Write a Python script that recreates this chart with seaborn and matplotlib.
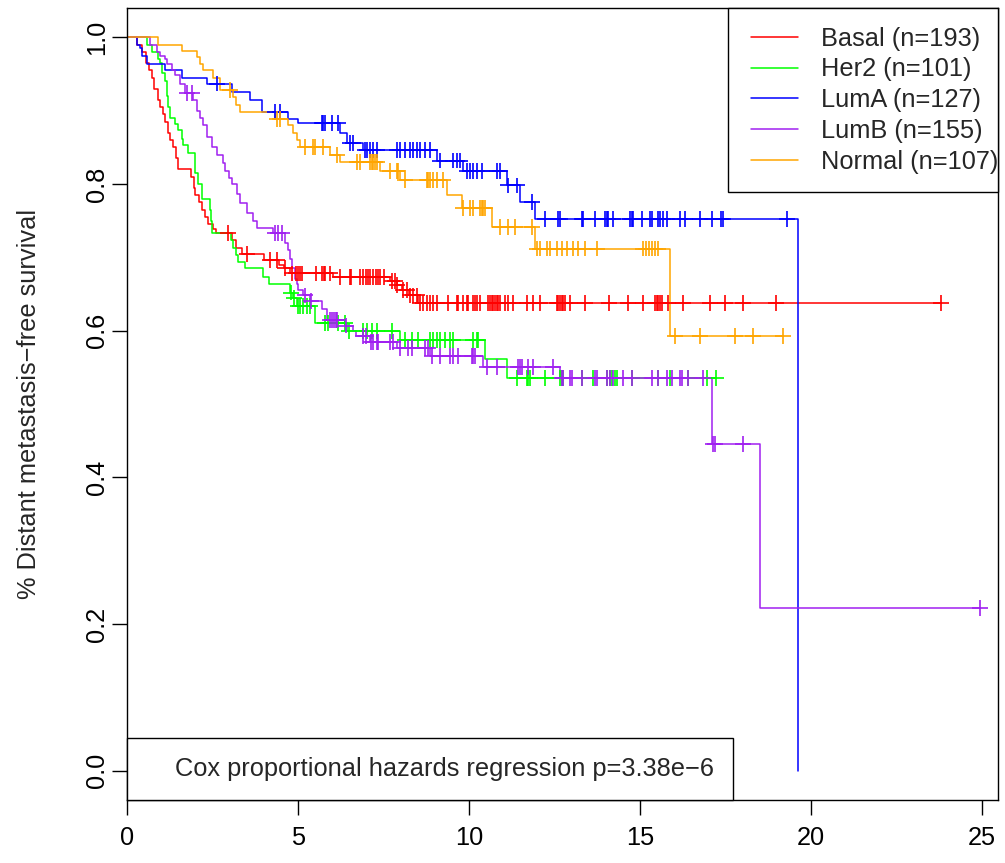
import numpy as np
import pandas as pd
import matplotlib
matplotlib.use('Agg')
import matplotlib.pyplot as plt
from matplotlib.lines import Line2D
from matplotlib.patches import Rectangle
import seaborn as sns

# ── 値─────────────────────────────────────────
groups  = ['Basal', 'Her2', 'LumA', 'LumB', 'Normal']
group_n = [193, 101, 127, 155, 107]
colors  = ['#FF0000', '#00FF00', '#0000FF', '#A020F0', '#FFA500']

basal_t = [0.30, 0.45, 0.55, 0.65, 0.73, 0.80, 0.90, 0.96, 1.05, 1.12, 1.20, 1.26, 1.35,
           1.42, 1.50, 1.88, 1.95, 2.00, 2.10, 2.20, 2.28, 2.37, 2.50, 2.60, 3.07, 3.20,
           3.35, 4.00, 4.45, 4.60, 4.77, 6.03, 7.70, 7.90, 8.05, 8.25, 8.50]
basal_s = [0.99, 0.98, 0.965, 0.955, 0.945, 0.93, 0.915, 0.905, 0.895, 0.885, 0.87, 0.86,
           0.85, 0.835, 0.82, 0.81, 0.795, 0.785, 0.775, 0.765, 0.755, 0.745, 0.738, 0.733,
           0.723, 0.713, 0.705, 0.696, 0.689, 0.685, 0.678, 0.673, 0.668, 0.662, 0.655,
           0.648, 0.638]
basal_cens = [2.95, 3.50, 4.18, 4.40, 4.62, 4.82, 4.94, 5.00, 5.06, 5.12, 5.53, 5.70, 5.76,
              5.80, 5.94, 6.23, 6.52, 6.55, 6.81, 6.90, 6.99, 7.05, 7.11, 7.20, 7.28, 7.34,
              7.40, 7.51, 7.75, 7.84, 7.90, 8.07, 8.19, 8.27, 8.36, 8.48, 8.57, 8.66, 8.77,
              8.86, 8.95, 9.06, 9.39, 9.65, 9.68, 9.82, 9.94, 9.97, 10.12, 10.18, 10.23,
              10.32, 10.56, 10.61, 10.67, 10.70, 10.76, 10.82, 10.85, 10.90, 11.05, 11.14,
              11.29, 11.70, 11.87, 12.08, 12.57, 12.60, 12.66, 12.72, 12.75, 12.80, 12.95,
              13.39, 14.09, 14.65, 15.09, 15.44, 15.50, 15.53, 15.58, 15.64, 15.82, 16.26,
              17.05, 17.49, 18.01, 18.98, 23.80]

her2_t = [0.58, 0.73, 0.91, 0.96, 1.02, 1.11, 1.17, 1.20, 1.26, 1.40, 1.49, 1.61, 1.64,
          1.78, 1.99, 2.08, 2.19, 2.43, 2.46, 2.49, 3.04, 3.10, 3.19, 3.25, 3.45, 3.98,
          4.15, 4.77, 4.85, 4.97, 5.50, 6.43, 7.98, 10.47, 11.11]
her2_s = [0.99, 0.98, 0.97, 0.965, 0.952, 0.94, 0.92, 0.905, 0.89, 0.882, 0.873, 0.862,
          0.853, 0.842, 0.815, 0.80, 0.78, 0.764, 0.75, 0.733, 0.723, 0.713, 0.703, 0.693,
          0.685, 0.673, 0.664, 0.652, 0.645, 0.634, 0.611, 0.60, 0.587, 0.562, 0.536]
her2_cens = [4.80, 4.88, 4.99, 5.06, 5.15, 5.26, 5.35, 5.79, 5.88, 6.17, 6.37, 6.48, 6.90,
             7.02, 7.16, 7.31, 7.75, 8.13, 8.33, 8.51, 8.86, 8.95, 9.06, 9.15, 9.30, 9.45,
             9.53, 10.12, 10.23, 10.26, 11.40, 11.70, 11.73, 11.78, 12.22, 12.66, 12.72,
             12.75, 13.30, 13.63, 14.04, 14.12, 14.18, 14.27, 14.33, 14.77, 15.53, 15.88,
             16.40, 16.95, 17.22]

luma_t = [0.29, 0.38, 0.44, 0.58, 1.11, 1.61, 2.34, 3.07, 3.60, 3.95, 4.71, 5.00, 6.23,
          6.43, 6.90, 9.06, 9.82, 11.11, 11.49, 11.93, 19.62]
luma_s = [0.99, 0.985, 0.975, 0.964, 0.955, 0.945, 0.937, 0.925, 0.914, 0.898, 0.889,
          0.883, 0.869, 0.856, 0.846, 0.832, 0.818, 0.798, 0.775, 0.752, 0.0]
luma_cens = [2.63, 4.33, 4.47, 5.70, 5.73, 5.79, 5.99, 6.17, 6.52, 6.61, 6.95, 7.02, 7.11,
             7.19, 7.31, 7.89, 7.98, 8.13, 8.27, 8.36, 8.48, 8.57, 8.71, 8.86, 9.15, 9.53,
             9.65, 9.74, 9.94, 10.03, 10.12, 10.23, 10.38, 10.82, 10.91, 11.15, 11.40,
             11.84, 12.22, 12.60, 12.66, 13.30, 13.33, 13.68, 13.98, 14.04, 14.06, 14.21,
             14.71, 14.77, 14.80, 15.06, 15.29, 15.35, 15.53, 15.58, 15.67, 15.79, 16.17,
             16.32, 16.75, 17.11, 17.37, 17.43, 19.30]

lumb_t = [0.67, 0.88, 0.96, 1.11, 1.17, 1.32, 1.40, 1.55, 1.70, 1.93, 2.05, 2.13, 2.22,
          2.34, 2.49, 2.63, 2.81, 2.87, 2.98, 3.07, 3.22, 3.30, 3.51, 3.68, 3.80, 4.27,
          4.62, 4.71, 4.77, 4.82, 4.91, 4.97, 5.00, 5.15, 5.35, 5.70, 5.85, 6.37, 6.61,
          6.70, 7.11, 7.89, 8.86, 10.41, 12.66, 17.11, 18.51]
lumb_s = [0.99, 0.98, 0.975, 0.97, 0.964, 0.955, 0.948, 0.937, 0.924, 0.914, 0.90, 0.89,
          0.88, 0.864, 0.85, 0.84, 0.828, 0.818, 0.808, 0.80, 0.787, 0.774, 0.761, 0.75,
          0.74, 0.733, 0.72, 0.71, 0.698, 0.686, 0.671, 0.663, 0.655, 0.648, 0.641, 0.63,
          0.614, 0.607, 0.60, 0.593, 0.584, 0.576, 0.566, 0.551, 0.535, 0.445, 0.222]
lumb_cens = [1.75, 1.90, 4.33, 4.42, 4.53, 5.20, 5.38, 5.94, 6.00, 6.05, 6.11, 6.14, 6.40,
             6.90, 6.99, 7.14, 7.20, 7.31, 7.34, 7.69, 7.78, 7.98, 8.22, 8.33, 8.71, 8.80,
             8.92, 9.15, 9.45, 9.53, 9.68, 10.09, 10.12, 10.18, 10.53, 10.82, 11.43, 11.49,
             11.55, 11.73, 11.87, 12.46, 12.72, 12.75, 12.95, 13.01, 13.30, 13.68, 13.74,
             14.04, 14.12, 14.21, 14.50, 14.77, 15.35, 15.53, 15.79, 15.94, 16.17, 16.23,
             16.40, 16.84, 17.14, 17.20, 18.01, 24.94]

normal_t = [0.91, 1.61, 2.05, 2.13, 2.22, 2.51, 2.72, 3.10, 3.20, 3.30, 4.33, 4.71, 4.85,
            4.97, 5.06, 5.94, 6.23, 7.40, 7.98, 9.36, 9.80, 10.67, 11.93, 15.88]
normal_s = [0.99, 0.982, 0.973, 0.964, 0.955, 0.945, 0.928, 0.918, 0.908, 0.898, 0.889,
            0.88, 0.87, 0.86, 0.85, 0.84, 0.83, 0.818, 0.805, 0.785, 0.767, 0.741, 0.712,
            0.593]
normal_cens = [3.01, 4.39, 4.47, 5.20, 5.44, 5.50, 5.73, 6.14, 6.73, 6.81, 7.11, 7.16,
               7.19, 7.25, 7.31, 7.69, 7.89, 7.92, 8.13, 8.77, 8.80, 8.86, 8.95, 9.06,
               9.24, 9.82, 10.03, 10.12, 10.32, 10.38, 10.41, 10.47, 10.91, 11.14, 11.35,
               11.84, 11.99, 12.08, 12.28, 12.37, 12.57, 12.72, 12.87, 13.04, 13.19, 13.39,
               13.74, 15.09, 15.18, 15.27, 15.35, 15.44, 15.53, 16.02, 16.75, 17.78, 18.31,
               19.18]

cox_text = 'Cox proportional hazards regression p=3.38e\u22126'
ylabel   = '% Distant metastasis\u2212free survival'

series = {'Basal': (basal_t, basal_s, basal_cens),
          'Her2': (her2_t, her2_s, her2_cens),
          'LumA': (luma_t, luma_s, luma_cens),
          'LumB': (lumb_t, lumb_s, lumb_cens),
          'Normal': (normal_t, normal_s, normal_cens)}

# ── 階段データと打ち切り位置 ─────────────────────────────
line_rows, mark_rows = [], []
for g, (t, s, c) in series.items():
    t, s, c = np.asarray(t), np.asarray(s), np.asarray(c)
    x = np.r_[0.0, t]
    y = np.r_[1.0, s]
    if c.max() > t.max():                      # 最後が打ち切りなら水平に延ばす
        x = np.r_[x, c.max()]
        y = np.r_[y, s[-1]]
    for xi, yi in zip(x, y):
        line_rows.append({'group': g, 'time': xi, 'surv': yi})
    idx = np.searchsorted(t, c, side='right') - 1
    cy = np.where(idx >= 0, s[np.clip(idx, 0, None)], 1.0)
    for xi, yi in zip(c, cy):
        mark_rows.append({'group': g, 'time': xi, 'surv': yi})

lines = pd.DataFrame(line_rows)
marks = pd.DataFrame(mark_rows)
palette = dict(zip(groups, colors))

# ── 描画 ─────────────────────────────────────────────
sns.set_style('ticks')
plt.rcParams['font.family'] = ['Liberation Sans', 'DejaVu Sans']
FS = 18.3

fig = plt.figure(figsize=(10.05, 8.63), dpi=100)
ax = fig.add_axes([0.1264, 0.073, 0.8666, 0.9177])

sns.lineplot(data=lines, x='time', y='surv', hue='group', hue_order=groups,
             palette=palette, estimator=None, sort=False, drawstyle='steps-post',
             linewidth=1.1, legend=False, ax=ax)
sns.scatterplot(data=marks, x='time', y='surv', hue='group', hue_order=groups,
                palette=palette, marker='+', s=130, linewidth=1.2, legend=False,
                ax=ax, zorder=3)

ax.set_xlim(0, 25.47)
ax.set_ylim(-0.04, 1.04)
ax.set_xticks([0, 5, 10, 15, 20, 25])
ax.set_yticks([0.0, 0.2, 0.4, 0.6, 0.8, 1.0])
ax.set_yticklabels(['0.0', '0.2', '0.4', '0.6', '0.8', '1.0'], rotation=90, va='center')
ax.set_xlabel('')
ax.set_ylabel(ylabel, fontsize=FS, labelpad=32)
ax.tick_params(axis='both', length=10.8, width=1, colors='black', labelsize=FS)
ax.tick_params(axis='x', pad=8)
ax.tick_params(axis='y', pad=2)
for sp in ax.spines.values():
    sp.set_visible(True)
    sp.set_color('black')
    sp.set_linewidth(1.0)

# 凡例（R風：右側の余白なし、枠は別に描く）
handles = [Line2D([], [], color=c, linewidth=1.1) for c in colors]
labels = [f'{g} (n={n})' for g, n in zip(groups, group_n)]
leg = ax.legend(handles, labels, loc='upper right', bbox_to_anchor=(1.0, 0.9766),
                borderaxespad=0, frameon=False, fontsize=FS, borderpad=0,
                handlelength=1.85, handletextpad=0.9, labelspacing=0.27)
ax.add_artist(leg)

cox = ax.legend([Line2D([], [], color='none')], [cox_text], loc='lower left',
                borderaxespad=0, frameon=True, fancybox=False, edgecolor='black',
                framealpha=1, fontsize=FS, handlelength=0.5, handletextpad=0.65,
                borderpad=0.75)
cox.get_frame().set_linewidth(1.0)

fig.canvas.draw()
bb = leg.get_window_extent()
inv = ax.transAxes.inverted()
(x0, y0) = inv.transform((bb.x0 - 23, bb.y0 - 18))
ax.add_patch(Rectangle((x0, y0), 1.0 - x0, 1.0 - y0, transform=ax.transAxes,
                       facecolor='white', edgecolor='black', linewidth=1.0,
                       zorder=4.5, clip_on=False))

fig.savefig('out.png', dpi=100)
